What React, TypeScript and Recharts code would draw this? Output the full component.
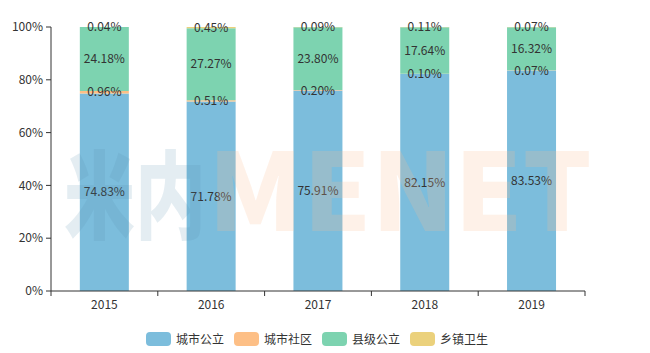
import React from 'react';
import { BarChart, Bar, XAxis, YAxis, LabelList } from 'recharts';

const years = ['2015', '2016', '2017', '2018', '2019'];
const cityPublic = [74.83, 71.78, 75.91, 82.15, 83.53];
const cityCommunity = [0.96, 0.51, 0.2, 0.1, 0.07];
const countyPublic = [24.18, 27.27, 23.8, 17.64, 16.32];
const townHealth = [0.04, 0.45, 0.09, 0.11, 0.07];
const yTicks = [0, 20, 40, 60, 80, 100];

const seriesNames = ['城市公立', '城市社区', '县级公立', '乡镇卫生'];
const seriesKeys = ['cityPublic', 'cityCommunity', 'countyPublic', 'townHealth'];
const seriesColors = ['#7cbddc', '#fdbf86', '#7dd3b0', '#ebd17c'];

const data = years.map((y, i) => ({
  year: y,
  cityPublic: cityPublic[i],
  cityCommunity: cityCommunity[i],
  countyPublic: countyPublic[i],
  townHealth: townHealth[i],
}));

const W = 650;
const H = 353;
const M = { top: 27, right: 65, left: 0, bottom: 32 };
const Y_AXIS_W = 51;
const FONT = '"Noto Sans CJK SC", "Noto Sans", sans-serif';
const band = (W - M.left - M.right - Y_AXIS_W) / years.length;

const XTick = (props: any) => {
  const { x, y, payload, index } = props;
  const axisY = y - 7;
  return (
    <g>
      <line x1={x - band / 2} x2={x - band / 2} y1={axisY} y2={axisY + 5} stroke="#333" />
      {index === years.length - 1 && (
        <line x1={x + band / 2} x2={x + band / 2} y1={axisY} y2={axisY + 5} stroke="#333" />
      )}
      <text x={x} y={y + 2} dy="0.71em" textAnchor="middle" fill="#333" fontSize={12} fontFamily={FONT}>
        {payload.value}
      </text>
    </g>
  );
};

const fmt = (v: any) => `${Number(v).toFixed(2)}%`;

export default function App() {
  return (
    <div style={{ position: 'absolute', left: 0, top: 0, width: W, height: H, background: '#fff' }}>
      <BarChart width={W} height={H} data={data} margin={M} barCategoryGap="27%">
        <XAxis
          dataKey="year"
          axisLine={{ stroke: '#333' }}
          tickLine={false}
          tickSize={5}
          tickMargin={2}
          tick={<XTick />}
          interval={0}
        />
        <YAxis
          width={Y_AXIS_W}
          domain={[0, 100]}
          ticks={yTicks}
          tickFormatter={(v) => `${v}%`}
          axisLine={{ stroke: '#333' }}
          tickLine={{ stroke: '#333' }}
          tickSize={5}
          tickMargin={3}
          tick={{ fill: '#333', fontSize: 12, fontFamily: FONT }}
          allowDataOverflow
        />
        {seriesKeys.map((k, i) => (
          <Bar key={k} dataKey={k} name={seriesNames[i]} stackId="a" fill={seriesColors[i]} isAnimationActive={false}>
            <LabelList dataKey={k} position="center" formatter={fmt} fill="#333" fontSize={12} fontFamily={FONT} />
          </Bar>
        ))}
      </BarChart>
      <svg width={W} height={H} style={{ position: 'absolute', left: 0, top: 0, pointerEvents: 'none' }}>
        <text x={64} y={231} fontSize={96} fontWeight={900} fontFamily={FONT} fill="#5a8fb0" fillOpacity={0.16} textLength={142} lengthAdjust="spacingAndGlyphs">米内</text>
        <text x={208} y={231} fontSize={108} fontWeight={900} fontFamily={FONT} fill="#fbbf94" fillOpacity={0.22} textLength={384} lengthAdjust="spacingAndGlyphs">MENET</text>
      </svg>
      <div style={{ position: 'absolute', left: -8, top: 331, width: W, display: 'flex', justifyContent: 'center', fontFamily: FONT, fontSize: 12, color: '#333' }}>
        {seriesNames.map((n, i) => (
          <div key={n} style={{ display: 'flex', alignItems: 'center', marginRight: i < seriesNames.length - 1 ? 10 : 0 }}>
            <div style={{ width: 25, height: 14, borderRadius: 4, background: seriesColors[i], marginRight: 5 }} />
            <span style={{ lineHeight: '16px' }}>{n}</span>
          </div>
        ))}
      </div>
    </div>
  );
}
